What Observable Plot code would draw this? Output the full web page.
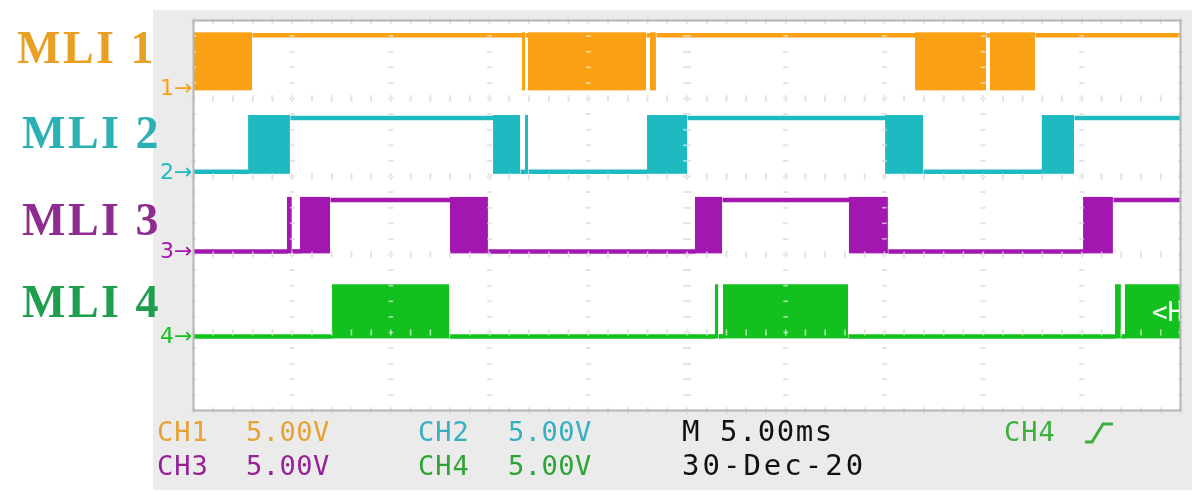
<!DOCTYPE html>
<html>
<head>
<meta charset="utf-8">
<script src="https://cdn.jsdelivr.net/npm/d3@7"></script>
<script src="https://cdn.jsdelivr.net/npm/@observablehq/plot@0.6"></script>
<style>
  html, body { margin: 0; padding: 0; background: #ffffff; }
  #root { position: relative; width: 1192px; height: 495px; overflow: hidden; background: #ffffff; }
  #panel { position: absolute; left: 153px; top: 10px; width: 1039px; height: 480px; background: #EBEBEB; }
  #chart { position: absolute; left: 0; top: 0; }
  .mli { position: absolute; font-family: "Liberation Serif", "Times New Roman", serif; font-weight: bold; font-size: 46px; line-height: 46px; letter-spacing: 2.5px; white-space: nowrap; }
  .ft { position: absolute; font-family: "DejaVu Sans Mono", monospace; font-size: 27px; line-height: 27px; white-space: nowrap; }
</style>
</head>
<body>
<div id="root">
  <div id="panel"></div>
  <div id="chart"></div>
</div>
<script>
// ---------- data ----------
const channels = ["CH1", "CH2", "CH3", "CH4"];
const traceLabels = ["MLI 1", "MLI 2", "MLI 3", "MLI 4"];
const markerLabels = ["1", "2", "3", "4"];
const traceColors = ["#F9A013", "#1EBAC2", "#A117B0", "#12C11E"];
const labelColors = ["#E8A024", "#2BB1B4", "#8E2D8F", "#1F9E4E"];
const footerColors = ["#E6A234", "#36AFC0", "#962196", "#2EA336"];
const voltsPerDiv = ["5.00V", "5.00V", "5.00V", "5.00V"];
const timeBase = "M 5.00ms";
const dateText = "30-Dec-20";
const triggerText = "CH4";

// ground (low) and high levels, in vertical divisions from bottom
const lowLevel = [4.13, 3.06, 2.04, 0.95];
const highLevel = [4.81, 3.75, 2.70, 1.58];

// edges in ms (10 div x 5 ms) and state of each interval
const ch1Edges = [0, 2.99, 16.67, 16.82, 16.97, 22.95, 23.15, 23.45, 36.58, 40.17, 40.37, 42.65, 50];
const ch1States = ["pwm", "high", "pwm", "high", "pwm", "high", "pwm", "high", "pwm", "high", "pwm", "high"];
const ch2Edges = [0, 2.79, 4.91, 15.2, 16.57, 16.82, 16.97, 23.0, 25.03, 35.06, 36.98, 43.0, 44.63, 50];
const ch2States = ["low", "pwm", "high", "pwm", "low", "pwm", "low", "pwm", "high", "pwm", "low", "pwm", "high"];
const ch3Edges = [0, 4.76, 5.0, 5.42, 6.94, 13.02, 14.94, 25.43, 26.8, 33.23, 35.2, 45.09, 46.6, 50];
const ch3States = ["low", "pwm", "low", "pwm", "high", "pwm", "low", "pwm", "high", "pwm", "low", "pwm", "high"];
const ch4Edges = [0, 7.04, 12.97, 26.44, 26.6, 26.85, 33.18, 46.71, 47.0, 47.21, 50];
const ch4States = ["low", "pwm", "low", "pwm", "low", "pwm", "low", "pwm", "low", "pwm"];

const allEdges = [ch1Edges, ch2Edges, ch3Edges, ch4Edges];
const allStates = [ch1States, ch2States, ch3States, ch4States];

// ---------- build ----------
function segments(c) {
  return allStates[c].map((s, i) => ({ch: c, t0: allEdges[c][i], t1: allEdges[c][i + 1], state: s}));
}

const xMajor = d3.range(0, 50.001, 5);
const xMinor = d3.range(0, 50.001, 1);
const yMajor = d3.range(0, 5.001, 1);
const yMinor = d3.range(0, 5.001, 0.2);
const vDashes = d3.cross(xMajor, yMinor);
const hDashes = d3.cross(xMinor, yMajor);
const gridColor = "#BEBEBE";

function gridMarks(extra) {
  return [
    Plot.link(vDashes, {x1: d => d[0] - (d[0] === 25 ? 0.2 : 0.12), x2: d => d[0] + (d[0] === 25 ? 0.2 : 0.12), y1: d => d[1], y2: d => d[1], stroke: gridColor, strokeWidth: 1.6, ...extra}),
    Plot.link(hDashes, {x1: d => d[0], x2: d => d[0], y1: d => d[1] - 0.04, y2: d => d[1] + 0.04, stroke: gridColor, strokeWidth: 1.6, ...extra})
  ];
}

const traceMarks = [];
channels.forEach((name, c) => {
  const segs = segments(c);
  const lv = d => (d.state === "high" ? highLevel[c] : lowLevel[c]);
  traceMarks.push(
    Plot.rect(segs.filter(d => d.state === "pwm"), {
      x1: "t0", x2: "t1", y1: () => lowLevel[c], y2: () => highLevel[c],
      fill: traceColors[c], insetTop: -2.5, insetBottom: -2.5
    }),
    Plot.link(segs.filter(d => d.state !== "pwm"), {
      x1: "t0", x2: "t1", y1: lv, y2: lv, stroke: traceColors[c], strokeWidth: 4.5
    }),
    Plot.text([markerLabels[c] + "\u2192"], {
      x: 0, y: () => lowLevel[c], text: d => d, textAnchor: "end", dx: -1,
      fill: traceColors[c], fontSize: 22, fontFamily: "DejaVu Sans"
    })
  );
});

const chart = Plot.plot({
  width: 1192,
  height: 420,
  marginLeft: 193,
  marginRight: 12,
  marginTop: 20,
  marginBottom: 10,
  x: {domain: [0, 50], axis: null},
  y: {domain: [0, 5], axis: null},
  style: {background: "transparent", overflow: "visible"},
  marks: [
    Plot.frame({fill: "white", stroke: "none"}),
    ...gridMarks({}),
    ...traceMarks,
    ...gridMarks({mixBlendMode: "screen", strokeOpacity: 0.8}),
    Plot.text(["<H"], {x: 48.55, y: 1.26, text: d => d, fill: "white", fontSize: 26, textAnchor: "start", fontFamily: "DejaVu Sans Mono", clip: true}),
    Plot.frame({stroke: "#B5B5B5", strokeWidth: 2})
  ]
});
document.getElementById("chart").appendChild(chart);

// ---------- labels ----------
const root = document.getElementById("root");
function addDiv(cls, text, left, top, color, extra) {
  const el = document.createElement("div");
  el.className = cls;
  el.textContent = text;
  el.style.left = left + "px";
  el.style.top = top + "px";
  el.style.color = color;
  if (extra) Object.assign(el.style, extra);
  root.appendChild(el);
  return el;
}
const mliPos = [[17, 25], [22, 110], [22, 197], [22, 279]];
traceLabels.forEach((t, i) => addDiv("mli", t, mliPos[i][0], mliPos[i][1], labelColors[i]));

// footer
addDiv("ft", channels[0], 157, 418, footerColors[0], {letterSpacing: "1px"});
addDiv("ft", voltsPerDiv[0], 246, 418, footerColors[0], {letterSpacing: "0.5px"});
addDiv("ft", channels[1], 418, 418, footerColors[1], {letterSpacing: "1px"});
addDiv("ft", voltsPerDiv[1], 508, 418, footerColors[1], {letterSpacing: "0.5px"});
addDiv("ft", channels[2], 157, 452, footerColors[2], {letterSpacing: "1px"});
addDiv("ft", voltsPerDiv[2], 246, 452, footerColors[2], {letterSpacing: "0.5px"});
addDiv("ft", channels[3], 418, 452, footerColors[3], {letterSpacing: "1px"});
addDiv("ft", voltsPerDiv[3], 508, 452, footerColors[3], {letterSpacing: "0.5px"});
addDiv("ft", timeBase, 682, 417, "#111111", {letterSpacing: "1.5px", fontSize: "29px", lineHeight: "29px"});
addDiv("ft", dateText, 682, 451, "#111111", {letterSpacing: "3px", fontSize: "29px", lineHeight: "29px"});
addDiv("ft", triggerText, 1004, 418, "#3DAF3D", {letterSpacing: "1px"});

// trigger slope symbol
const ns = "http://www.w3.org/2000/svg";
const sym = document.createElementNS(ns, "svg");
sym.setAttribute("width", "32");
sym.setAttribute("height", "24");
sym.style.position = "absolute";
sym.style.left = "1083px";
sym.style.top = "421px";
const pl = document.createElementNS(ns, "polyline");
pl.setAttribute("points", "2,21 9,21 20,3 30,3");
pl.setAttribute("fill", "none");
pl.setAttribute("stroke", "#3DAF3D");
pl.setAttribute("stroke-width", "3");
sym.appendChild(pl);
root.appendChild(sym);
</script>
</body>
</html>
